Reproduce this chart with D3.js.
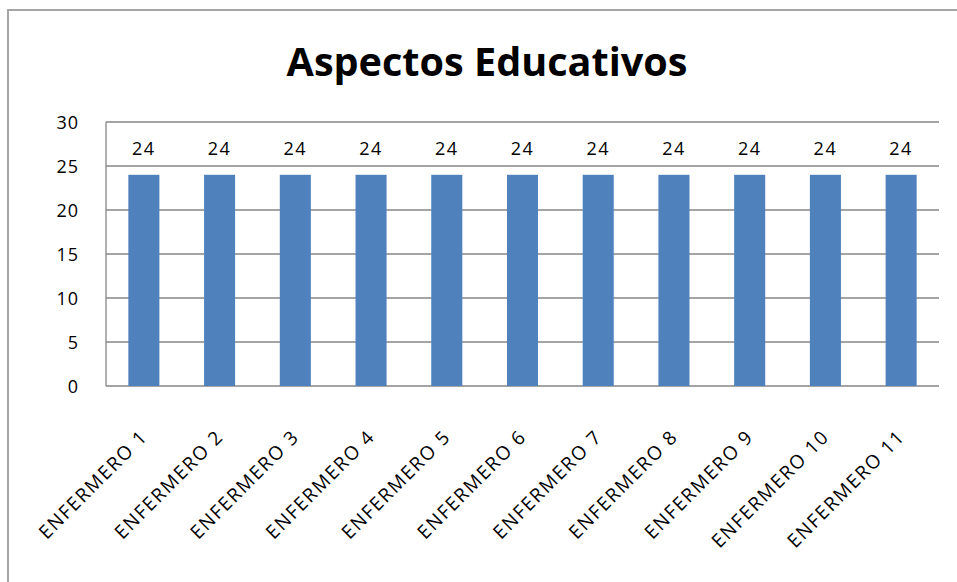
<!DOCTYPE html>
<html><head><meta charset="utf-8">
<script src="https://cdn.jsdelivr.net/npm/d3@7"></script>
<style>body{margin:0;background:#fff}svg{display:block}</style>
</head><body>
<svg id="c" width="957" height="582"></svg>
<script>
const title = "Aspectos Educativos";
const categories = ["ENFERMERO 1","ENFERMERO 2","ENFERMERO 3","ENFERMERO 4","ENFERMERO 5","ENFERMERO 6","ENFERMERO 7","ENFERMERO 8","ENFERMERO 9","ENFERMERO 10","ENFERMERO 11"];
const values = [24,24,24,24,24,24,24,24,24,24,24];
const yTicks = [0,5,10,15,20,25,30];

const svg = d3.select("#c");
const W = 957, H = 582;
const m = {left:106, top:122, right:957-939, bottom:582-386};
const font = "'Open Sans', sans-serif";

// outer chart border
svg.append("rect").attr("x",8).attr("y",10).attr("width",W+10).attr("height",H+10)
  .attr("fill","#fff").attr("stroke","#a6a6a6").attr("stroke-width",2);

const x = d3.scaleBand().domain(categories).range([m.left, W-m.right]).paddingInner(0.59).paddingOuter(0.295);
const y = d3.scaleLinear().domain([0,30]).range([H-m.bottom, m.top]);

// gridlines
svg.append("g").selectAll("line").data(yTicks).join("line")
  .attr("x1",m.left).attr("x2",W-m.right)
  .attr("y1",d=>y(d)).attr("y2",d=>y(d))
  .attr("stroke","#868686").attr("stroke-width",1.3);

// left axis line
svg.append("line").attr("x1",m.left).attr("x2",m.left).attr("y1",y(30)).attr("y2",y(0))
  .attr("stroke","#868686").attr("stroke-width",1.3);

// bars
svg.append("g").selectAll("rect").data(values).join("rect")
  .attr("x",(d,i)=>x(categories[i])).attr("width",x.bandwidth())
  .attr("y",d=>y(d)).attr("height",d=>y(0)-y(d))
  .attr("fill","#4f81bd");

// value labels
svg.append("g").selectAll("text").data(values).join("text")
  .attr("x",(d,i)=>x(categories[i])+x.bandwidth()/2).attr("y",d=>y(d)-20)
  .attr("text-anchor","middle").attr("font-family",font).attr("font-size",18).attr("letter-spacing",1.5)
  .attr("fill","#000").text(d=>d);

// y tick labels
const yAxis = d3.axisLeft(y).tickValues(yTicks).tickSize(0).tickPadding(0);
const gy = svg.append("g").attr("transform",`translate(${m.left-27},0)`).call(yAxis);
gy.select(".domain").remove();
gy.selectAll("text").attr("font-family",font).attr("font-size",18).attr("letter-spacing",1).attr("fill","#000").attr("dy","0.36em");

// x labels
const xAxis = d3.axisBottom(x).tickSize(0).tickPadding(0);
const gx = svg.append("g").attr("transform",`translate(0,${y(0)})`).call(xAxis);
gx.select(".domain").remove();
gx.selectAll("text").attr("font-family",font).attr("font-size",19).attr("letter-spacing",1.6).attr("fill","#000")
  .attr("text-anchor","end").attr("dy",0).attr("y",0)
  .attr("transform","translate(5,52) rotate(-45)");

// title
const t = svg.append("text").attr("x",487).attr("y",76).attr("text-anchor","middle")
  .attr("font-family",font).attr("font-weight","bold").attr("font-size",38).attr("fill","#000").text(title);
const len = t.node().getComputedTextLength();
t.attr("font-size", 38*401/len);
</script>
</body></html>
